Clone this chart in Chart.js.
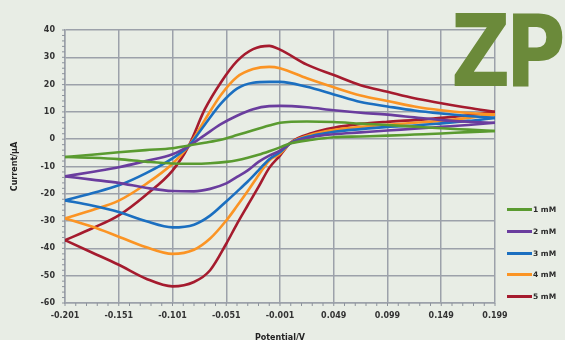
<!DOCTYPE html>
<html>
<head>
<meta charset="utf-8">
<title>Cyclic voltammograms</title>
<script src="https://cdn.jsdelivr.net/npm/chart.js@4.4.1/dist/chart.umd.min.js"></script>
<style>
    html, body {
        margin: 0;
        padding: 0;
        background: #e8ede5;
    }
    #wrap {
        position: relative;
        width: 565px;
        height: 340px;
        overflow: hidden;
    }
    #logo {
        position: absolute;
        left: 451px;
        top: -7px;
        font-family: 'DejaVu Sans', sans-serif;
        font-weight: bold;
        font-size: 100px;
        color: #6b8a3a;
        letter-spacing: -6px;
        transform: scaleX(0.82);
        transform-origin: left top;
    }
    #legend {
        position: absolute;
        left: 507px;
        top: 199px;
        font-family: 'DejaVu Sans', sans-serif;
        font-size: 7.5px;
        font-weight: bold;
        color: #2a2a2a;
    }
    .legend-row {
        height: 21.7px;
        display: flex;
        align-items: center;
    }
    .legend-line {
        width: 25px;
        height: 3px;
        margin-right: 1px;
    }
</style>
</head>
<body>
<div id="wrap">
    <canvas id="cv-chart" width="565" height="340"></canvas>
    <div id="logo">ZP</div>
    <div id="legend"></div>
</div>
<script>
// Potential grid (V) for the forward (upper) and reverse (lower) scans
const forwardPotential = [-0.201, -0.176, -0.151, -0.126, -0.101, -0.086, -0.071, -0.056, -0.041, -0.026,
    -0.011, -0.001, 0.024, 0.049, 0.074, 0.099, 0.124, 0.149, 0.174, 0.199];
const reversePotential = [0.199, 0.174, 0.149, 0.124, 0.099, 0.074, 0.049, 0.029, 0.009, -0.001, -0.011,
    -0.021, -0.031, -0.041, -0.051, -0.066, -0.081, -0.101, -0.126, -0.151, -0.176, -0.201];

// Current (uA)
const forward1mM = [-6.5, -5.7, -4.8, -4.0, -3.3, -2.3, -1.3, -0.2, 1.5, 3.3, 5.0, 6.0, 6.5, 6.3, 5.7, 5.2, 4.6, 4.0, 3.5, 3.0];
const reverse1mM = [3.0, 2.6, 2.1, 1.7, 1.3, 1.0, 0.7, -0.2, -1.5, -3.0, -4.4, -5.7, -6.8, -7.7, -8.3, -8.8, -9.0, -8.9, -8.2, -7.3, -6.8, -6.5];

const forward2mM = [-13.6, -12.0, -10.3, -8.0, -5.5, -2.5, 1.5, 5.5, 8.6, 11.0, 12.1, 12.2, 11.7, 10.6, 9.7, 9.0, 8.0, 7.0, 6.4, 6.0];
const reverse2mM = [6.0, 5.2, 4.5, 3.8, 3.2, 2.5, 1.8, 0.8, -1.4, -4.2, -6.0, -8.3, -11.4, -13.8, -16.2, -18.2, -19.1, -19.0, -17.8, -16.0, -14.8, -13.6];

const forward3mM = [-22.4, -19.8, -16.9, -12.5, -7.0, -2.5, 5.3, 13.0, 18.5, 20.7, 21.0, 21.0, 19.2, 16.4, 13.6, 12.0, 10.5, 9.4, 8.5, 7.8];
const reverse3mM = [7.8, 6.7, 5.8, 5.0, 4.5, 3.7, 2.7, 1.3, -1.4, -4.8, -7.3, -11.4, -15.5, -19.2, -22.8, -28.0, -31.3, -32.3, -30.0, -26.7, -24.3, -22.4];

const forward4mM = [-29.0, -26.0, -22.5, -16.5, -9.0, -2.5, 7.0, 16.2, 22.8, 25.7, 26.5, 26.0, 22.3, 19.0, 16.0, 14.0, 12.0, 10.6, 9.6, 9.0];
const reverse4mM = [9.0, 7.8, 6.7, 6.0, 5.3, 4.5, 3.4, 1.8, -1.3, -5.3, -7.8, -13.2, -19.0, -24.5, -29.8, -36.4, -40.5, -42.0, -39.5, -35.7, -32.0, -29.0];

const forward5mM = [-37.0, -32.7, -27.9, -20.5, -11.5, -2.5, 10.9, 20.8, 28.6, 33.0, 34.2, 32.8, 27.3, 23.5, 19.8, 17.4, 15.0, 13.2, 11.5, 10.0];
const reverse5mM = [10.0, 8.8, 7.8, 7.0, 6.4, 5.6, 4.2, 2.3, -1.2, -6.0, -10.5, -17.5, -24.2, -31.0, -38.3, -48.0, -52.3, -53.9, -51.0, -46.0, -41.5, -37.0];

const seriesLabels = ['1 mM', '2 mM', '3 mM', '4 mM', '5 mM'];
const seriesColors = ['#5a9b30', '#6a3d9e', '#1b6fc0', '#fb9424', '#a51b2e'];
const forwardCurrents = [forward1mM, forward2mM, forward3mM, forward4mM, forward5mM];
const reverseCurrents = [reverse1mM, reverse2mM, reverse3mM, reverse4mM, reverse5mM];

const xTicks = [-0.201, -0.151, -0.101, -0.051, -0.001, 0.049, 0.099, 0.149, 0.199];
const yTicks = [-60, -50, -40, -30, -20, -10, 0, 10, 20, 30, 40];

const tickFont = { family: 'DejaVu Sans', size: 8, weight: 'bold' };

function toPoints(potential, current) {
    return current.map((y, i) => ({ x: potential[i], y: y }));
}

// Each concentration: forward scan and reverse scan, drawn in the same colour
const datasets = [];
seriesLabels.forEach((label, i) => {
    [toPoints(forwardPotential, forwardCurrents[i]), toPoints(reversePotential, reverseCurrents[i])].forEach(pts => {
        datasets.push({
            label: label,
            data: pts,
            borderColor: seriesColors[i],
            borderWidth: 2.6,
            pointRadius: 0,
            showLine: true,
            cubicInterpolationMode: 'monotone',
            fill: false
        });
    });
});

// Small minor tick marks along the left and bottom axes
const minorTicks = {
    id: 'minorTicks',
    afterDraw(chart) {
        const { ctx, chartArea, scales } = chart;
        ctx.save();
        ctx.strokeStyle = '#8d939c';
        ctx.lineWidth = 1;
        ctx.beginPath();
        for (let v = -60; v <= 40; v += 2) {
            const y = scales.y.getPixelForValue(v);
            ctx.moveTo(chartArea.left - 3, y);
            ctx.lineTo(chartArea.left, y);
        }
        for (let k = 0; k <= 40; k++) {
            const x = scales.x.getPixelForValue(-0.201 + k * 0.01);
            ctx.moveTo(x, chartArea.bottom);
            ctx.lineTo(x, chartArea.bottom + 3);
        }
        ctx.stroke();
        ctx.restore();
    }
};

const ctx = document.getElementById('cv-chart');
new Chart(ctx, {
    type: 'scatter',
    data: { datasets: datasets },
    options: {
        responsive: false,
        animation: false,
        layout: { padding: { top: 30, right: 70, left: 0, bottom: 0 } },
        plugins: {
            legend: { display: false },
            tooltip: { enabled: false }
        },
        scales: {
            x: {
                type: 'linear',
                min: -0.201,
                max: 0.199,
                afterBuildTicks: (scale) => { scale.ticks = xTicks.map(v => ({ value: v })); },
                afterFit: (scale) => { scale.height = 37; },
                ticks: {
                    font: tickFont,
                    color: '#333',
                    padding: 8,
                    maxRotation: 0,
                    callback: (v) => v.toFixed(3)
                },
                grid: { color: '#9ca1aa', lineWidth: 1.5, drawTicks: false },
                border: { color: '#9ca1aa', width: 1.5 },
                title: {
                    display: true,
                    text: 'Potential/V',
                    font: { family: 'DejaVu Sans', size: 8, weight: 'bold' },
                    color: '#222',
                    padding: { top: 0, bottom: -3 }
                }
            },
            y: {
                type: 'linear',
                min: -60,
                max: 40,
                afterBuildTicks: (scale) => { scale.ticks = yTicks.map(v => ({ value: v })); },
                afterFit: (scale) => { scale.width = 65; },
                ticks: {
                    font: tickFont,
                    color: '#333',
                    padding: 10
                },
                grid: { color: '#9ca1aa', lineWidth: 1.5, drawTicks: false },
                border: { color: '#9ca1aa', width: 1.5 },
                title: {
                    display: true,
                    text: 'Current/μA',
                    font: { family: 'DejaVu Sans', size: 8, weight: 'bold' },
                    color: '#222',
                    padding: { top: 10, bottom: 0 }
                }
            }
        }
    },
    plugins: [minorTicks]
});

// HTML legend built from the series
const legend = document.getElementById('legend');
seriesLabels.forEach((label, i) => {
    const row = document.createElement('div');
    row.className = 'legend-row';
    const line = document.createElement('div');
    line.className = 'legend-line';
    line.style.background = seriesColors[i];
    const text = document.createElement('span');
    text.textContent = label;
    row.appendChild(line);
    row.appendChild(text);
    legend.appendChild(row);
});
</script>
</body>
</html>
